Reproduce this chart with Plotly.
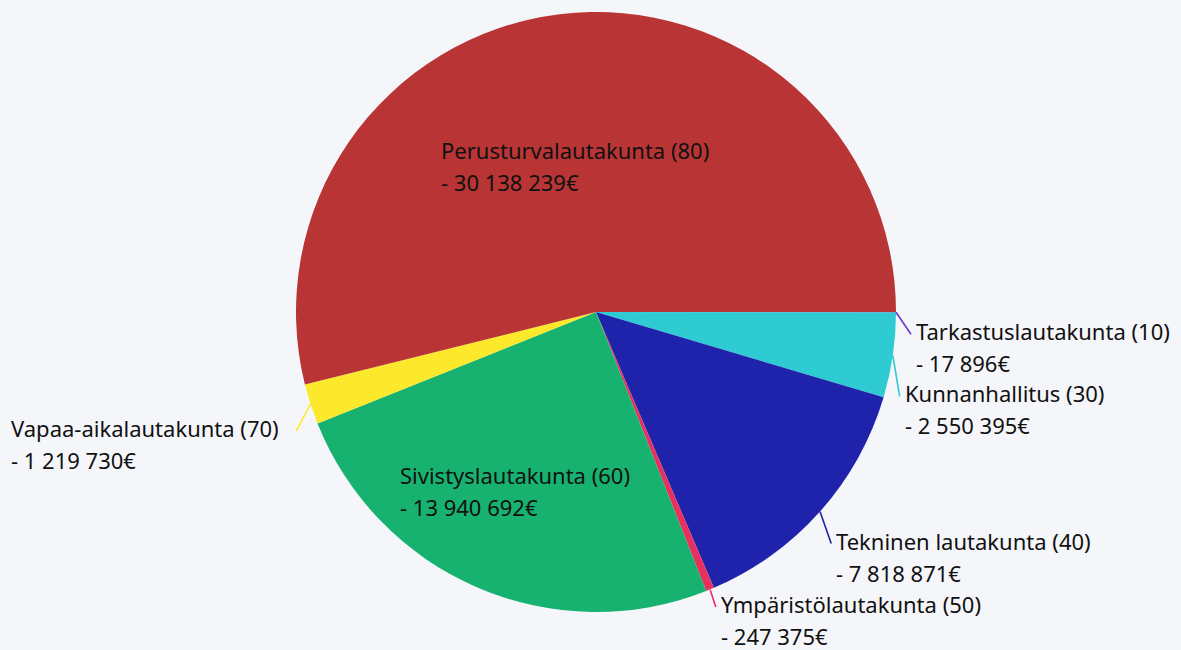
import math
import plotly.graph_objects as go

labels = ["Tarkastuslautakunta (10)", "Kunnanhallitus (30)", "Tekninen lautakunta (40)",
          "Ympäristölautakunta (50)", "Sivistyslautakunta (60)", "Vapaa-aikalautakunta (70)",
          "Perusturvalautakunta (80)"]
values = [17896, 2550395, 7818871, 247375, 13940692, 1219730, 30138239]
colors = ["#6a35d6", "#2ecbd3", "#1f22aa", "#e8305e", "#17b26f", "#fce92b", "#b93535"]
inside = [False, False, False, False, True, False, True]

W, H = 1181, 650
ML, MR, MT, MB = 11, 0, 12, 38
PW, PH = W - ML - MR, H - MT - MB
R = min(PW, PH) / 2
CX, CY = ML + PW / 2, MT + PH / 2

FONT = "Noto Sans"
FS = 22
LINE_GAP = 32
TEXT_COLOR = "#111111"
CHAR_EM = 0.487


def px(x):
    return (x - ML) / PW


def py(y):
    return (H - MB - y) / PH


def fmt(v):
    return "- " + f"{v:,}".replace(",", " ") + "€"


fig = go.Figure(go.Pie(
    labels=labels, values=values, sort=False, direction="clockwise", rotation=90,
    marker=dict(colors=colors, line=dict(width=0)), textinfo="none", hoverinfo="label+value",
    showlegend=False,
))

total = sum(values)
angles = []
acc = 0
for v in values:
    mid = (acc + v / 2) / total * 360.0
    angles.append(mid)
    acc += v

annotations = []
shapes = []


def add_label(x, y, name, val, anchor):
    box = round(len(name) * CHAR_EM * FS) + 3
    for k, t in enumerate([name, fmt(val)]):
        annotations.append(dict(x=px(x), y=py(y + k * LINE_GAP), xref="paper", yref="paper", text=t,
                                showarrow=False, xanchor=anchor, yanchor="middle", align="left",
                                width=box, borderpad=0,
                                font=dict(family=FONT, size=FS, color=TEXT_COLOR)))


# inside labels
inside_r = {4: 0.65, 6: 0.49}
for i, is_in in enumerate(inside):
    if not is_in:
        continue
    a = math.radians(angles[i])
    cx = CX + inside_r[i] * R * math.cos(a)
    cy = CY + inside_r[i] * R * math.sin(a)
    width = len(labels[i]) * CHAR_EM * FS
    left = cx - width / 2 - (4 if i == 6 else -3)
    add_label(left, cy - LINE_GAP / 2, labels[i], values[i], "left")

# outside labels with leader lines
ends = {}
for i, is_in in enumerate(inside):
    if is_in:
        continue
    a = math.radians(angles[i])
    ex = CX + 1.05 * R * math.cos(a)
    ey = CY + 1.05 * R * math.sin(a) + 22
    ends[i] = [ex, ey, a]

right = sorted([i for i in ends if math.cos(ends[i][2]) >= 0], key=lambda k: ends[k][1])
prev = None
for i in right:
    if prev is not None and ends[i][1] < ends[prev][1] + 62:
        ends[i][1] = ends[prev][1] + 62
        ends[i][0] -= 8
    prev = i
for i in ends:
    ends[i][1] = min(ends[i][1], H - 43)

for i, (ex, ey, a) in ends.items():
    sx = CX + R * math.cos(a)
    sy = CY + R * math.sin(a)
    shapes.append(dict(type="line", xref="paper", yref="paper", x0=px(sx), y0=py(sy),
                       x1=px(ex), y1=py(ey), line=dict(color=colors[i], width=1.6)))
    if math.cos(a) >= 0:
        add_label(ex + 4, ey - 3, labels[i], values[i], "left")
    else:
        add_label(ex - 13, ey - 3, labels[i], values[i], "right")

fig.update_layout(
    width=W, height=H,
    margin=dict(l=ML, r=MR, t=MT, b=MB),
    paper_bgcolor="#f5f6fa", plot_bgcolor="#f5f6fa",
    annotations=annotations, shapes=shapes,
    font=dict(family=FONT, size=FS, color=TEXT_COLOR),
)

fig.write_html(
    "out.html",
    config={"displayModeBar": False},
    post_script="document.body.style.margin='0';document.body.style.overflow='hidden';"
                "document.documentElement.style.background='#f5f6fa';",
)
